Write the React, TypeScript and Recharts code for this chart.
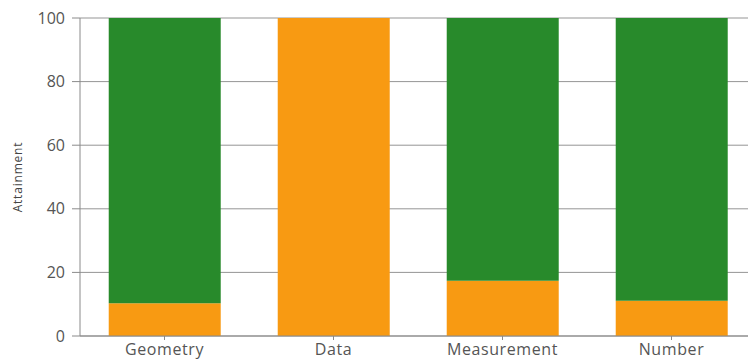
import React from 'react';
import { BarChart, Bar, XAxis, YAxis, CartesianGrid } from 'recharts';

const CATEGORIES = ['Geometry', 'Data', 'Measurement', 'Number'];
const ORANGE_VALUES = [10.3, 100, 17.4, 11.1];
const GREEN_VALUES = [89.7, 0, 82.6, 88.9];
const Y_TICKS = [0, 20, 40, 60, 80, 100];

const ORANGE = '#f89a12';
const GREEN = '#288a2b';
const AXIS = '#8a8a8a';
const FONT = '"Open Sans", Lato, sans-serif';

const data = CATEGORIES.map((name, i) => ({
  name,
  orange: ORANGE_VALUES[i],
  green: GREEN_VALUES[i],
}));

const App: React.FC = () => {
  return (
    <div
      style={{
        position: 'absolute',
        left: 0,
        top: 0,
        width: 748,
        height: 359,
        overflow: 'hidden',
        background: '#fff',
      }}
    >
      <BarChart
        width={756}
        height={359}
        data={data}
        margin={{ top: 18, right: 0, bottom: 0, left: 0 }}
        barCategoryGap="17%"
      >
        <CartesianGrid vertical={false} stroke={AXIS} strokeOpacity={0.9} />
        <XAxis
          dataKey="name"
          height={23}
          stroke={AXIS}
          tickSize={4}
          tickMargin={4}
          tick={{ fill: '#555', fontSize: 16, fontFamily: FONT, letterSpacing: 0.6 }}
        />
        <YAxis
          width={80}
          domain={[0, 100]}
          ticks={Y_TICKS}
          stroke={AXIS}
          tickSize={8}
          tickMargin={7}
          tick={{ fill: '#555', fontSize: 16, fontFamily: FONT }}
          label={{
            value: 'Attainment',
            angle: -90,
            position: 'insideLeft',
            offset: 18,
            style: { fill: '#444', fontSize: 12, fontFamily: FONT, letterSpacing: 0.8, textAnchor: 'middle' },
          }}
        />
        <Bar dataKey="orange" stackId="a" fill={ORANGE} isAnimationActive={false} />
        <Bar dataKey="green" stackId="a" fill={GREEN} isAnimationActive={false} />
      </BarChart>
    </div>
  );
};

export default App;
